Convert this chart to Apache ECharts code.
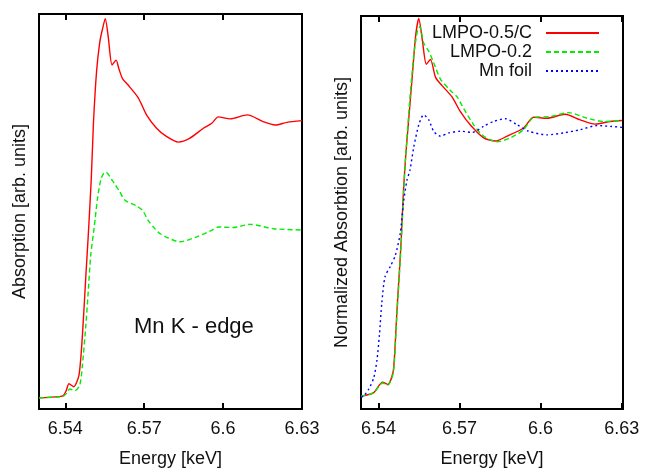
<!DOCTYPE html>
<html>
<head>
<meta charset="utf-8">
<script src="https://cdn.jsdelivr.net/npm/echarts@6/dist/echarts.min.js"></script>
<style>
  html, body { margin: 0; padding: 0; background: #fff; }
  #chart { width: 646px; height: 473px; }
</style>
</head>
<body>
<div id="chart"></div>
<script>
// tick labels on both energy axes
var tickValues = [6.54, 6.57, 6.6, 6.63];

// left panel: raw absorption (arb. units, offset curves)
var leftRedE = [6.5300, 6.5360, 6.5391, 6.5403, 6.5414, 6.5432, 6.5452, 6.5465, 6.5478, 6.5487, 6.5499, 6.5507, 6.5519, 6.5531, 6.5541, 6.5552, 6.5563, 6.5578, 6.5593, 6.5604, 6.5618, 6.5638, 6.5677, 6.5710, 6.5747, 6.5783, 6.5830, 6.5874, 6.5925, 6.5957, 6.5982, 6.6027, 6.6092, 6.6154, 6.6198, 6.6243, 6.6300];
var leftRedY = [11.3, 12.3, 13.3, 18.3, 25.6, 22.6, 34.3, 74.3, 134.3, 174.3, 234.3, 289.3, 342.3, 371.3, 384.3, 395.3, 377.3, 348.3, 353.3, 344.3, 334.3, 328.3, 315.3, 297.3, 284.3, 276.3, 270.3, 274.3, 284.3, 289.3, 295.8, 293.8, 297.8, 290.8, 287.6, 290.3, 292];

var leftGreenE = [6.5300, 6.5391, 6.5405, 6.5417, 6.5436, 6.5455, 6.5465, 6.5478, 6.5486, 6.5497, 6.5510, 6.5523, 6.5535, 6.5545, 6.5554, 6.5580, 6.5589, 6.5605, 6.5627, 6.5669, 6.5694, 6.5715, 6.5735, 6.5760, 6.5836, 6.5900, 6.5957, 6.5982, 6.6039, 6.6103, 6.6192, 6.6300];
var leftGreenY = [11.3, 12.8, 16, 20.3, 18.6, 24.3, 44.3, 84.3, 114.3, 156.3, 184.3, 214.3, 232.3, 238.3, 239.8, 231, 227.3, 221, 211.3, 206, 201, 191, 184.3, 177.6, 169.3, 174.3, 181, 184.3, 183.8, 187, 182.6, 181.3];

// right panel: normalized absorption
var rightRedE = [6.5335, 6.5345, 6.5382, 6.5415, 6.5434, 6.5453, 6.5459, 6.5468, 6.5477, 6.5484, 6.5492, 6.5501, 6.5512, 6.5525, 6.5537, 6.5549, 6.5562, 6.5577, 6.5592, 6.5611, 6.5635, 6.5672, 6.5703, 6.5740, 6.5789, 6.5833, 6.5876, 6.5937, 6.5974, 6.6024, 6.6091, 6.6147, 6.6202, 6.6258, 6.6301];
var rightRedY = [13, 13.4, 16.7, 27.4, 25, 36.7, 53.4, 100, 140, 173.4, 221.7, 260, 296.7, 340, 380, 398.4, 376.7, 351.7, 356.7, 338.4, 330, 318.4, 303.4, 289.7, 276.7, 273.4, 278.4, 286.7, 297.7, 296.7, 300.7, 295, 290.7, 293.4, 294.4];

var rightGreenE = [6.5335, 6.5345, 6.5382, 6.5415, 6.5434, 6.5453, 6.5459, 6.5468, 6.5477, 6.5484, 6.5492, 6.5500, 6.5518, 6.5533, 6.5545, 6.5553, 6.5567, 6.5586, 6.5604, 6.5629, 6.5666, 6.5691, 6.5715, 6.5752, 6.5789, 6.5839, 6.5888, 6.5937, 6.5974, 6.6036, 6.6104, 6.6172, 6.6233, 6.6301];
var rightGreenY = [13, 13.4, 16.5, 26.5, 24.5, 35, 50, 96, 136, 170, 215, 256.7, 323.4, 366.7, 386.7, 390, 373.4, 365, 353.4, 336.7, 325, 318.4, 306.7, 290, 278.4, 272.7, 276.7, 285, 297.4, 298.4, 302.4, 296.7, 293.4, 294.4];

var rightBlueE = [6.5335, 6.5345, 6.5363, 6.5382, 6.5394, 6.5403, 6.5412, 6.5424, 6.5444, 6.5462, 6.5480, 6.5492, 6.5505, 6.5516, 6.5530, 6.5549, 6.5567, 6.5586, 6.5604, 6.5629, 6.5660, 6.5703, 6.5746, 6.5789, 6.5826, 6.5870, 6.5913, 6.5956, 6.6024, 6.6085, 6.6147, 6.6209, 6.6258, 6.6301];
var rightBlueY = [12, 13.4, 20, 31.7, 49.7, 75, 108, 135, 145.7, 156.7, 178.7, 210, 233.4, 243.4, 266.7, 290, 300.2, 295, 283.4, 278.4, 281.7, 283.4, 282.2, 288.4, 293.4, 296.2, 290, 283.4, 279.7, 281.7, 285, 289.2, 288.4, 287.4];

var legendNames = ['LMPO-0.5/C', 'LMPO-0.2', 'Mn foil'];

function zip(xs, ys) {
	return xs.map(function (x, i) { return [x, ys[i]]; });
}

var font = 'Liberation Sans, Arial, sans-serif';

function energyAxis(gridIndex, min, max, bottom) {
	return {
		type: 'value',
		gridIndex: gridIndex,
		position: bottom ? 'bottom' : 'top',
		min: min,
		max: max,
		name: bottom ? 'Energy [keV]' : '',
		nameLocation: 'middle',
		nameGap: 41,
		nameTextStyle: { fontSize: 18, color: '#111', fontFamily: font },
		axisLine: { show: true, onZero: false, lineStyle: { color: '#000', width: 2 } },
		axisTick: { show: true, inside: true, length: 6, customValues: tickValues, lineStyle: { color: '#000', width: 2 } },
		axisLabel: {
			show: bottom, customValues: tickValues, margin: 11,
			fontSize: 18, color: '#111', fontFamily: font,
			formatter: function (v) { return String(+v.toFixed(2)); }
		},
		splitLine: { show: false }
	};
}

function absAxis(gridIndex, name, max, gap) {
	return {
		type: 'value',
		gridIndex: gridIndex,
		min: 0,
		max: max,
		name: name,
		nameLocation: 'middle',
		nameGap: gap,
		nameTextStyle: { fontSize: 18, color: '#111', fontFamily: font },
		axisLine: { show: false },
		axisTick: { show: false },
		axisLabel: { show: false },
		splitLine: { show: false }
	};
}

function curve(name, xi, yi, data, color, type) {
	return {
		name: name,
		type: 'line',
		xAxisIndex: xi,
		yAxisIndex: yi,
		data: data,
		smooth: 0.25,
		symbol: 'none',
		lineStyle: { color: color, width: 1.4, type: type },
		itemStyle: { color: color }
	};
}

var chart = echarts.init(document.getElementById('chart'));
chart.setOption({
	animation: false,
	textStyle: { fontFamily: font },
	grid: [
		{ left: 39, top: 14, width: 263, height: 400, show: true, borderColor: '#000', borderWidth: 2 },
		{ left: 361, top: 16, width: 262, height: 401, show: true, borderColor: '#000', borderWidth: 2 }
	],
	xAxis: [
		energyAxis(0, 6.53, 6.63, true),
		energyAxis(0, 6.53, 6.63, false),
		energyAxis(1, 6.5335, 6.6305, true),
		energyAxis(1, 6.5335, 6.6305, false)
	],
	yAxis: [
		absAxis(0, 'Absorption [arb. units]', 400, 10),
		absAxis(1, 'Normalized Absorbtion [arb. units]', 401, 10)
	],
	legend: {
		data: legendNames,
		orient: 'vertical',
		align: 'right',
		right: 46,
		top: 24,
		padding: 0,
		itemGap: 1,
		itemWidth: 53,
		itemHeight: 14,
		itemStyle: { opacity: 0 },
		textStyle: { fontSize: 18, color: '#111', fontFamily: font, padding: [0, 9, 0, 0] }
	},
	graphic: [{
		type: 'text',
		left: 134,
		top: 316,
		style: { text: 'Mn K - edge', fontSize: 22, fill: '#111', fontFamily: font }
	}],
	series: [
		curve('left red', 0, 0, zip(leftRedE, leftRedY), '#ff0000', 'solid'),
		curve('left green', 0, 0, zip(leftGreenE, leftGreenY), '#00ee00', [5, 3]),
		curve(legendNames[0], 2, 1, zip(rightRedE, rightRedY), '#ff0000', 'solid'),
		curve(legendNames[1], 2, 1, zip(rightGreenE, rightGreenY), '#00ee00', [5, 3]),
		curve(legendNames[2], 2, 1, zip(rightBlueE, rightBlueY), '#0000ff', [2, 3])
	]
});
</script>
</body>
</html>
